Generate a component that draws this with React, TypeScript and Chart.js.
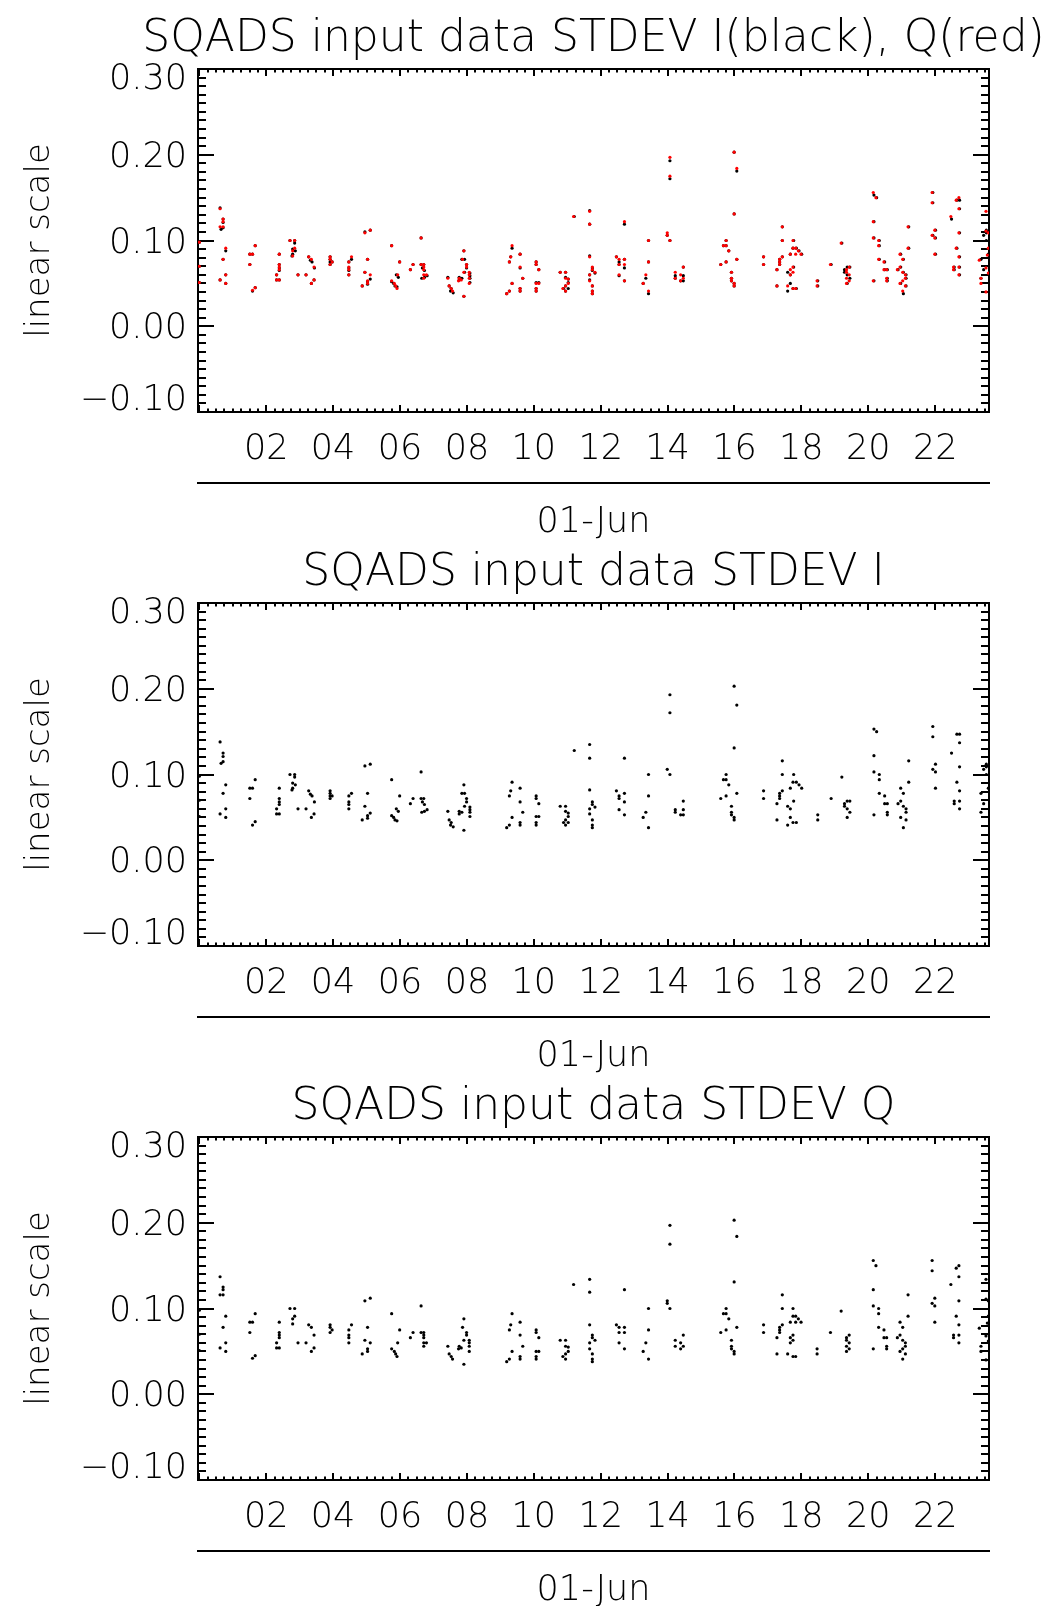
import React, { useEffect, useRef } from 'react';
import { Chart, registerables } from 'chart.js';

Chart.register(...registerables);

// ---------------- data ----------------
const panelTitles = [
  'SQADS input data STDEV I(black), Q(red)',
  'SQADS input data STDEV I',
  'SQADS input data STDEV Q',
];
const yAxisTitle = 'linear scale';
const xAxisTitle = '01-Jun';
const xTickLabels = ['02', '04', '06', '08', '10', '12', '14', '16', '18', '20', '22']; // hours 2..22
const yTickLabels = ['\u22120.10', '0.00', '0.10', '0.20', '0.30']; // -0.1..0.3

// STDEV I : hour of day / value
const iHours = [
  0.0, 0.0, 0.0,
  0.62, 0.71, 0.71, 0.65, 0.71, 0.79, 0.71, 0.79, 0.62, 0.79,
  1.67, 1.51, 1.59, 1.51, 1.67, 1.59,
  2.39, 2.39, 2.39, 2.39, 2.31, 2.31, 2.39,
  2.71, 2.85, 2.85, 2.79, 2.87, 2.79, 2.77, 2.95,
  3.27, 3.32, 3.37, 3.44, 3.19, 3.43, 3.35,
  3.91, 3.91, 3.91, 3.97, 3.91,
  4.55, 4.47, 4.47, 4.47, 4.47,
  4.95, 5.11, 5.03, 4.95, 5.11, 5.03, 5.03, 4.87,
  5.75, 5.75, 5.81, 5.85, 5.99, 5.89, 5.95, 5.91,
  6.31, 6.39, 6.63, 6.63, 6.71, 6.67, 6.73, 6.65, 6.73, 6.81,
  7.43, 7.47, 7.53, 7.51, 7.59,
  7.91, 7.85, 7.93, 7.99, 7.99, 7.93, 8.09, 8.09, 8.09, 7.77, 7.85, 7.77, 8.09, 7.91,
  9.35, 9.59, 9.31, 9.27, 9.59, 9.67, 9.35, 9.59, 9.59, 9.27, 9.19,
  10.07, 10.07, 10.15, 10.07, 10.15, 10.07, 10.07,
  10.79, 10.95, 10.95, 11.03, 11.03, 10.95, 10.89, 10.95, 11.03,
  11.21, 11.67, 11.67, 11.67, 11.75, 11.75, 11.67, 11.67, 11.75, 11.75, 11.83, 11.75,
  12.71, 12.47, 12.55, 12.55, 12.71, 12.71, 12.55, 12.71,
  13.43, 13.43, 13.35, 13.27, 13.43,
  14.07, 14.07, 13.99, 14.07, 14.23, 14.23, 14.47, 14.47, 14.39, 14.47,
  15.99, 16.07, 15.99, 15.75, 15.67, 15.75, 15.83, 16.07, 15.75, 15.59, 15.91, 15.91, 15.91, 15.99, 15.99,
  16.87, 16.87,
  17.43, 17.43, 17.35, 17.35, 17.35, 17.43, 17.27, 17.27,
  17.67, 17.75, 17.59, 17.67, 17.67, 17.59, 17.75,
  17.77, 17.85, 17.93, 18.01, 17.77, 17.85,
  18.49, 18.49, 18.89,
  19.21, 19.29, 19.37, 19.29, 19.37, 19.45, 19.45, 19.37,
  20.17, 20.25, 20.17, 20.17, 20.33, 20.33, 20.33, 20.49, 20.49, 20.57, 20.57, 20.57, 20.17,
  21.21, 21.21, 20.97, 21.05, 20.89, 20.97, 21.05, 21.13, 21.13, 20.97, 21.13, 21.05,
  21.93, 21.93, 22.01, 21.93, 22.01, 22.01,
  22.49, 22.65, 22.73, 22.73, 22.73, 22.65, 22.73, 22.57, 22.57, 22.73, 22.73,
  23.53, 23.53, 23.45, 23.53, 23.59, 23.37, 23.45, 23.37,
];
const iValues = [
  0.098, 0.070, 0.051,
  0.138, 0.125, 0.121, 0.113, 0.115, 0.088, 0.078, 0.060, 0.054, 0.050,
  0.094, 0.084, 0.084, 0.072, 0.045, 0.041,
  0.084, 0.072, 0.068, 0.065, 0.060, 0.054, 0.054,
  0.100, 0.100, 0.097, 0.090, 0.088, 0.084, 0.082, 0.060,
  0.081, 0.077, 0.075, 0.068, 0.060, 0.054, 0.050,
  0.081, 0.078, 0.075, 0.075, 0.072,
  0.078, 0.075, 0.068, 0.065, 0.060,
  0.110, 0.112, 0.078, 0.063, 0.055, 0.052, 0.049, 0.047,
  0.094, 0.052, 0.050, 0.047, 0.075, 0.060, 0.057, 0.046,
  0.066, 0.072, 0.103, 0.072, 0.072, 0.068, 0.065, 0.056, 0.057, 0.059,
  0.057, 0.047, 0.044, 0.041, 0.039,
  0.088, 0.078, 0.078, 0.072, 0.068, 0.063, 0.062, 0.059, 0.056, 0.057, 0.056, 0.054, 0.051, 0.035,
  0.091, 0.084, 0.081, 0.075, 0.068, 0.056, 0.050, 0.044, 0.041, 0.041, 0.038,
  0.075, 0.072, 0.066, 0.051, 0.051, 0.044, 0.041,
  0.063, 0.063, 0.057, 0.055, 0.051, 0.047, 0.044, 0.041, 0.044,
  0.128, 0.135, 0.119, 0.082, 0.068, 0.065, 0.060, 0.054, 0.047, 0.041, 0.062, 0.038,
  0.119, 0.081, 0.075, 0.072, 0.078, 0.068, 0.059, 0.053,
  0.100, 0.075, 0.056, 0.050, 0.038,
  0.193, 0.172, 0.106, 0.100, 0.059, 0.056, 0.069, 0.059, 0.053, 0.053,
  0.203, 0.181, 0.131, 0.100, 0.094, 0.094, 0.088, 0.078, 0.075, 0.072, 0.063, 0.056, 0.053, 0.050, 0.047,
  0.081, 0.072,
  0.116, 0.100, 0.078, 0.075, 0.072, 0.081, 0.066, 0.047,
  0.084, 0.091, 0.063, 0.060, 0.050, 0.041, 0.044,
  0.100, 0.091, 0.088, 0.084, 0.069, 0.044,
  0.053, 0.047, 0.072,
  0.097, 0.066, 0.069, 0.063, 0.060, 0.069, 0.056, 0.050,
  0.153, 0.150, 0.122, 0.103, 0.100, 0.094, 0.078, 0.075, 0.066, 0.066, 0.056, 0.053, 0.053,
  0.116, 0.091, 0.084, 0.078, 0.066, 0.069, 0.063, 0.060, 0.056, 0.050, 0.047, 0.038,
  0.156, 0.144, 0.112, 0.106, 0.103, 0.084,
  0.125, 0.147, 0.147, 0.137, 0.109, 0.091, 0.081, 0.069, 0.066, 0.069, 0.060,
  0.112, 0.109, 0.106, 0.100, 0.084, 0.078, 0.066, 0.056,
];

// STDEV Q : hour of day / value
const qHours = [
  0.0, 0.0, 0.0,
  0.62, 0.71, 0.71, 0.62, 0.71, 0.79, 0.71, 0.79, 0.62, 0.79,
  1.67, 1.51, 1.59, 1.51, 1.67, 1.59,
  2.39, 2.39, 2.39, 2.39, 2.31, 2.31, 2.39,
  2.71, 2.85, 2.85, 2.79, 2.79, 2.95,
  3.19, 3.27, 3.35, 3.43, 3.43, 3.35,
  3.91, 3.91, 3.97, 3.91,
  4.55, 4.47, 4.47, 4.47, 4.47,
  4.95, 5.11, 5.03, 4.95, 5.11, 5.03, 5.03, 4.87,
  5.75, 5.99, 5.93, 5.75, 5.83, 5.87, 5.91,
  6.31, 6.39, 6.63, 6.63, 6.71, 6.71, 6.71, 6.71, 6.79, 6.71,
  7.43, 7.47, 7.53, 7.57,
  7.91, 7.87, 7.99, 7.99, 7.91, 8.07, 8.07, 8.07, 7.77, 7.83, 7.75, 8.07, 7.91,
  9.35, 9.59, 9.31, 9.27, 9.59, 9.67, 9.35, 9.59, 9.59, 9.27, 9.19,
  10.07, 10.07, 10.15, 10.07, 10.15, 10.07, 10.07,
  10.79, 10.95, 10.95, 11.03, 11.03, 10.95, 10.87, 10.95,
  11.19, 11.67, 11.67, 11.67, 11.75, 11.75, 11.83, 11.67, 11.67, 11.75, 11.75, 11.75,
  12.71, 12.47, 12.55, 12.71, 12.55, 12.71, 12.55, 12.71,
  13.43, 13.43, 13.35, 13.27, 13.43,
  14.07, 14.07, 13.99, 13.99, 14.07, 14.23, 14.23, 14.47, 14.39, 14.47, 14.39,
  15.99, 16.07, 15.99, 15.75, 15.67, 15.75, 15.83, 16.07, 15.75, 15.59, 15.91, 15.91, 15.91, 15.99, 15.99,
  16.87, 16.87,
  17.43, 17.43, 17.75, 17.43, 17.35, 17.35, 17.35, 17.27, 17.27,
  17.75, 17.83, 17.91, 17.67, 17.83, 17.99, 17.75, 17.67, 17.75, 17.67, 17.59, 17.75, 17.83,
  18.47, 18.47, 18.87,
  19.19, 19.35, 19.43, 19.35, 19.43, 19.35, 19.43, 19.35,
  20.15, 20.23, 20.15, 20.15, 20.31, 20.31, 20.31, 20.47, 20.47, 20.55, 20.55, 20.55, 20.15,
  21.19, 21.19, 20.95, 21.03, 20.87, 20.95, 21.03, 21.11, 21.11, 21.03, 20.95, 21.11, 21.03,
  21.91, 21.91, 21.99, 21.91, 21.99, 21.99,
  22.47, 22.63, 22.71, 22.71, 22.71, 22.63, 22.71, 22.55, 22.55, 22.71, 22.71,
  23.52, 23.52, 23.59, 23.59, 23.56, 23.32, 23.52, 23.59, 23.37, 23.37, 23.52,
];
const qValues = [
  0.098, 0.070, 0.051,
  0.137, 0.125, 0.122, 0.116, 0.116, 0.091, 0.078, 0.060, 0.054, 0.050,
  0.094, 0.084, 0.084, 0.072, 0.045, 0.042,
  0.084, 0.072, 0.069, 0.066, 0.060, 0.054, 0.054,
  0.100, 0.100, 0.091, 0.088, 0.082, 0.060,
  0.060, 0.081, 0.078, 0.069, 0.054, 0.050,
  0.081, 0.078, 0.075, 0.072,
  0.081, 0.075, 0.069, 0.066, 0.060,
  0.109, 0.112, 0.078, 0.063, 0.060, 0.053, 0.050, 0.047,
  0.094, 0.075, 0.060, 0.053, 0.050, 0.047, 0.044,
  0.066, 0.072, 0.103, 0.072, 0.072, 0.069, 0.066, 0.060, 0.060, 0.056,
  0.056, 0.047, 0.044, 0.041,
  0.088, 0.078, 0.072, 0.069, 0.063, 0.063, 0.060, 0.056, 0.056, 0.054, 0.053, 0.050, 0.035,
  0.094, 0.084, 0.081, 0.075, 0.069, 0.056, 0.050, 0.044, 0.041, 0.041, 0.038,
  0.075, 0.072, 0.066, 0.050, 0.050, 0.044, 0.041,
  0.063, 0.063, 0.056, 0.055, 0.050, 0.047, 0.044, 0.041,
  0.128, 0.134, 0.119, 0.081, 0.069, 0.066, 0.063, 0.060, 0.053, 0.047, 0.041, 0.038,
  0.122, 0.081, 0.078, 0.078, 0.072, 0.072, 0.060, 0.053,
  0.100, 0.075, 0.060, 0.050, 0.041,
  0.197, 0.175, 0.109, 0.106, 0.100, 0.063, 0.056, 0.069, 0.060, 0.056, 0.053,
  0.203, 0.184, 0.131, 0.100, 0.094, 0.094, 0.088, 0.078, 0.075, 0.072, 0.063, 0.056, 0.053, 0.050, 0.047,
  0.081, 0.072,
  0.116, 0.100, 0.100, 0.081, 0.078, 0.075, 0.072, 0.066, 0.047,
  0.091, 0.091, 0.088, 0.084, 0.084, 0.084, 0.069, 0.066, 0.063, 0.060, 0.047, 0.044, 0.044,
  0.053, 0.047, 0.072,
  0.097, 0.066, 0.069, 0.063, 0.060, 0.056, 0.053, 0.050,
  0.156, 0.150, 0.122, 0.103, 0.100, 0.094, 0.078, 0.075, 0.066, 0.066, 0.056, 0.053, 0.053,
  0.116, 0.091, 0.084, 0.078, 0.066, 0.069, 0.063, 0.060, 0.056, 0.053, 0.050, 0.047, 0.041,
  0.156, 0.144, 0.112, 0.106, 0.103, 0.084,
  0.128, 0.147, 0.150, 0.137, 0.109, 0.091, 0.081, 0.069, 0.066, 0.069, 0.060,
  0.134, 0.111, 0.109, 0.091, 0.083, 0.077, 0.068, 0.062, 0.056, 0.050, 0.040,
];

// axis ranges
const X_MIN = -0.04;
const X_MAX = 23.61;
const Y_MIN = -0.1;
const Y_MAX = 0.3;

// ---------------- layout / style ----------------
const CANVAS_W = 1055;
const CANVAS_H = 545;
const PANEL_STEP = 534;
const AREA_LEFT = 198;
const AREA_RIGHT = 989;
const AREA_BOTTOM = 412;
// the title box is widened past the canvas on the right so that it is centred on the plot box
const TITLE_RIGHT_EXTRA = 2 * ((AREA_LEFT + AREA_RIGHT) / 2) - CANVAS_W;
const X_LABEL_BAND = 71;
const X_TITLE_BAND = 61;
const Y_TITLE_CENTER = 40;
const FONT = "'DejaVu Sans', sans-serif";
const labelFont = { family: FONT, size: 35, weight: '200' as any };

const toPoints = (xs: number[], ys: number[]) => xs.map((x, i) => ({ x, y: ys[i] }));

const fix = (size: number) => (scale: any) => {
  if (scale.isHorizontal()) scale.height = size;
  else scale.width = size;
};

function tickAxis(position: string, isX: boolean, step: number, len: number, border: boolean, weight: number, size = 0) {
  return {
    type: 'linear',
    position,
    weight,
    min: isX ? X_MIN : Y_MIN,
    max: isX ? X_MAX : Y_MAX,
    ticks: { display: false, stepSize: step, autoSkip: false, includeBounds: false },
    grid: { display: true, drawOnChartArea: false, drawTicks: true, tickLength: -len, tickWidth: 2, tickColor: '#000', lineWidth: 2 },
    border: { display: border, color: '#000', width: 2 },
    afterFit: fix(size),
  };
}

// IDL pulls the first/last y labels inside the axis: done with a two-line label
// whose blank line and line height push the text inward.
const yLabelIndex = (v: number) => Math.round((v - Y_MIN) / 0.1);

function buildScales() {
  const yTitleFont = { family: FONT, size: 34, weight: '200' as any };
  return {
    xMinor: tickAxis('bottom', true, 0.25, 3.5, false, -1),
    x: {
      type: 'linear',
      position: 'bottom',
      weight: 0,
      min: X_MIN,
      max: X_MAX,
      ticks: {
        stepSize: 2,
        autoSkip: false,
        includeBounds: false,
        maxRotation: 0,
        padding: 24,
        color: '#000',
        font: labelFont,
        callback: (v: number) => xTickLabels[Math.round(v / 2) - 1] ?? '',
      },
      grid: { display: true, drawOnChartArea: false, drawTicks: true, tickLength: -7, tickWidth: 2, tickColor: '#000', lineWidth: 2 },
      border: { display: true, color: '#000', width: 2 },
      afterFit: fix(X_LABEL_BAND),
    },
    xLine: {
      type: 'linear',
      position: 'bottom',
      weight: 1,
      min: X_MIN,
      max: X_MAX,
      ticks: { display: false },
      grid: { display: false },
      border: { display: true, color: '#000', width: 2 },
      title: { display: true, text: xAxisTitle, color: '#000', font: labelFont, padding: { top: 0, bottom: 0 } },
      afterFit: fix(X_TITLE_BAND),
    },
    xTopMinor: tickAxis('top', true, 0.25, 3.5, false, -1),
    xTop: tickAxis('top', true, 2, 7, true, 0),
    yMinor: tickAxis('left', false, 0.01, 8, false, -1),
    y: {
      type: 'linear',
      position: 'left',
      weight: 0,
      min: Y_MIN,
      max: Y_MAX,
      ticks: {
        stepSize: 0.1,
        autoSkip: false,
        includeBounds: false,
        padding: 27,
        labelOffset: 3,
        color: '#000',
        font: (ctx: any) => {
          const k = yLabelIndex(ctx.tick ? ctx.tick.value : 0);
          const lh = k === 0 ? 28 : k === yTickLabels.length - 1 ? 16 : 42;
          return { ...labelFont, lineHeight: lh / labelFont.size };
        },
        callback: (v: number) => {
          const k = yLabelIndex(v);
          const t = yTickLabels[k] ?? '';
          if (k === 0) return [t, ''];
          if (k === yTickLabels.length - 1) return ['', t];
          return t;
        },
      },
      grid: { display: true, drawOnChartArea: false, drawTicks: true, tickLength: -16, tickWidth: 2, tickColor: '#000', lineWidth: 2 },
      border: { display: true, color: '#000', width: 2 },
      title: {
        display: true,
        text: yAxisTitle,
        color: '#000',
        font: yTitleFont,
        padding: { top: Y_TITLE_CENTER - (34 * 1.2) / 2, bottom: 0 },
      },
      afterFit: fix(AREA_LEFT),
    },
    yRightMinor: tickAxis('right', false, 0.01, 8, false, -1),
    yRight: tickAxis('right', false, 0.1, 16, true, 0, CANVAS_W + TITLE_RIGHT_EXTRA - AREA_RIGHT),
  };
}

type Series = { points: { x: number; y: number }[]; color: string; order: number };

function Panel({ top, height, title, series }: { top: number; height: number; title: string; series: Series[] }) {
  const ref = useRef<HTMLCanvasElement | null>(null);
  useEffect(() => {
    if (!ref.current) return;
    const chart = new Chart(ref.current, {
      type: 'scatter',
      data: {
        datasets: series.map((s) => ({
          data: s.points,
          order: s.order,
          backgroundColor: s.color,
          borderColor: s.color,
          pointStyle: 'circle',
          pointRadius: 1.6,
          pointBorderWidth: 0,
          pointHoverRadius: 1.6,
          showLine: false,
        })),
      },
      options: {
        responsive: false,
        maintainAspectRatio: false,
        animation: false,
        devicePixelRatio: 1,
        events: [],
        layout: {
          padding: {
            left: 0,
            right: -TITLE_RIGHT_EXTRA,
            top: 0,
            bottom: height - AREA_BOTTOM - X_LABEL_BAND - X_TITLE_BAND,
          },
        },
        plugins: {
          legend: { display: false },
          tooltip: { enabled: false },
          title: {
            display: true,
            text: title,
            fullSize: true,
            align: 'center',
            color: '#000',
            font: { family: FONT, size: 44, weight: '200' as any },
            padding: { top: 13, bottom: 3.2 },
          },
        },
        scales: buildScales() as any,
      },
    });
    return () => chart.destroy();
  }, [title, series, height]);
  return (
    <canvas
      ref={ref}
      width={CANVAS_W}
      height={height}
      style={{ position: 'absolute', left: 0, top, width: CANVAS_W, height }}
    />
  );
}

const iPoints = toPoints(iHours, iValues);
const qPoints = toPoints(qHours, qValues);

const panels: { title: string; series: Series[] }[] = [
  {
    title: panelTitles[0],
    series: [
      { points: qPoints, color: '#ff0000', order: 0 },
      { points: iPoints, color: '#000000', order: 1 },
    ],
  },
  { title: panelTitles[1], series: [{ points: iPoints, color: '#000000', order: 0 }] },
  { title: panelTitles[2], series: [{ points: qPoints, color: '#000000', order: 0 }] },
];

export default function App() {
  return (
    <div
      style={{
        position: 'absolute',
        left: 0,
        top: 0,
        width: CANVAS_W,
        height: 1606,
        overflow: 'hidden',
        background: '#fff',
      }}
    >
      {panels.map((p, i) => (
        <Panel key={i} top={i * PANEL_STEP} height={CANVAS_H} title={p.title} series={p.series} />
      ))}
    </div>
  );
}
